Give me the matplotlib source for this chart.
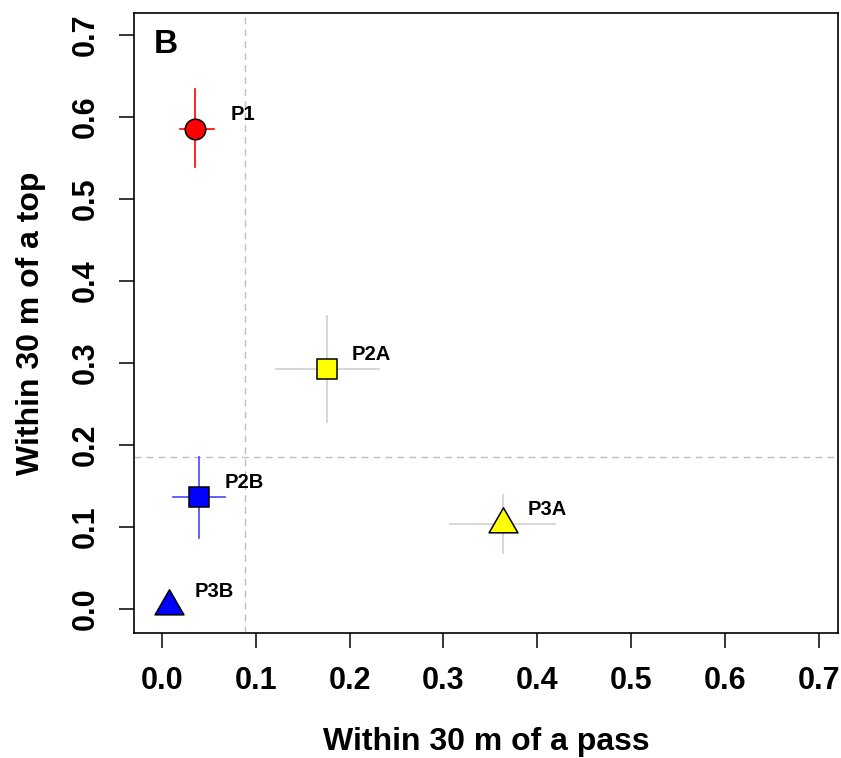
import numpy as np
import matplotlib
matplotlib.use('Agg')
import matplotlib.pyplot as plt
from matplotlib.path import Path

plt.rcParams['font.family'] = ['Liberation Sans', 'DejaVu Sans']
plt.rcParams['font.weight'] = 'bold'

# Group labels and estimated proportions (mean with interval)
groups = ['P1', 'P2A', 'P2B', 'P3A', 'P3B']
pass_mean = [0.036, 0.176, 0.040, 0.363, 0.008]
pass_lo = [0.019, 0.122, 0.012, 0.307, 0.008]
pass_hi = [0.056, 0.231, 0.067, 0.419, 0.008]
top_mean = [0.586, 0.293, 0.137, 0.104, 0.004]
top_lo = [0.539, 0.228, 0.087, 0.068, 0.004]
top_hi = [0.634, 0.358, 0.186, 0.139, 0.004]

# Reference thresholds (dashed lines)
pass_ref = 0.089
top_ref = 0.186

ticks = [0.0, 0.1, 0.2, 0.3, 0.4, 0.5, 0.6, 0.7]

# Styling per group
fills = ['#FF0000', '#FFFF00', '#0000FF', '#FFFF00', '#0000FF']
bar_colors = ['#FF0000', '#CFCFCF', '#4444FF', '#CFCFCF', '#4444FF']

# triangle marker with its centroid on the data point (like R's pch 24)
tri = Path([(-1, -0.577), (1, -0.577), (0, 1.155), (-1, -0.577)],
           [Path.MOVETO, Path.LINETO, Path.LINETO, Path.CLOSEPOLY])
markers = ['o', 's', 's', tri, tri]
sizes = [14.8, 15, 15, 24, 24]
label_dx = [25, 18, 18, 18, 18]

fig = plt.figure(figsize=(8.41, 7.58), dpi=100)
ax = fig.add_axes([0.1593, 0.1649, 0.8371, 0.8179])

ax.axvline(pass_ref, color='#BEBEBE', lw=1, dashes=(5, 3.6), zorder=1)
ax.axhline(top_ref, color='#BEBEBE', lw=1, dashes=(5, 3.6), zorder=1)

for i, g in enumerate(groups):
    ax.plot([pass_lo[i], pass_hi[i]], [top_mean[i], top_mean[i]],
            color=bar_colors[i], lw=1.2, zorder=2)
    ax.plot([pass_mean[i], pass_mean[i]], [top_lo[i], top_hi[i]],
            color=bar_colors[i], lw=1.2, zorder=2)
    ax.plot(pass_mean[i], top_mean[i], marker=markers[i], ms=sizes[i],
            mfc=fills[i], mec='black', mew=1.1, ls='none', zorder=3)
    ax.annotate(g, (pass_mean[i], top_mean[i]), xytext=(label_dx[i], 10.5),
                textcoords='offset points', ha='left', va='center',
                fontsize=14.5, fontweight='bold')

ax.set_xlim(-0.0295, 0.72)
ax.set_ylim(-0.0293, 0.727)
ax.set_xticks(ticks)
ax.set_yticks(ticks)
ax.set_xticklabels([f'{t:.1f}' for t in ticks])
ax.set_yticklabels([f'{t:.1f}' for t in ticks], rotation=90, va='center')
ax.tick_params(length=10.5, width=1.1, labelsize=22, pad=13.5)
for s in ax.spines.values():
    s.set_linewidth(1.2)

ax.set_xlabel('Within 30 m of a pass', fontsize=23, fontweight='bold', labelpad=22)
ax.set_ylabel('Within 30 m of a top', fontsize=23, fontweight='bold', labelpad=18)

ax.text(0.028, 0.95, 'B', transform=ax.transAxes, fontsize=24,
        fontweight='bold', ha='left', va='center')

fig.savefig('out.png', dpi=100)
